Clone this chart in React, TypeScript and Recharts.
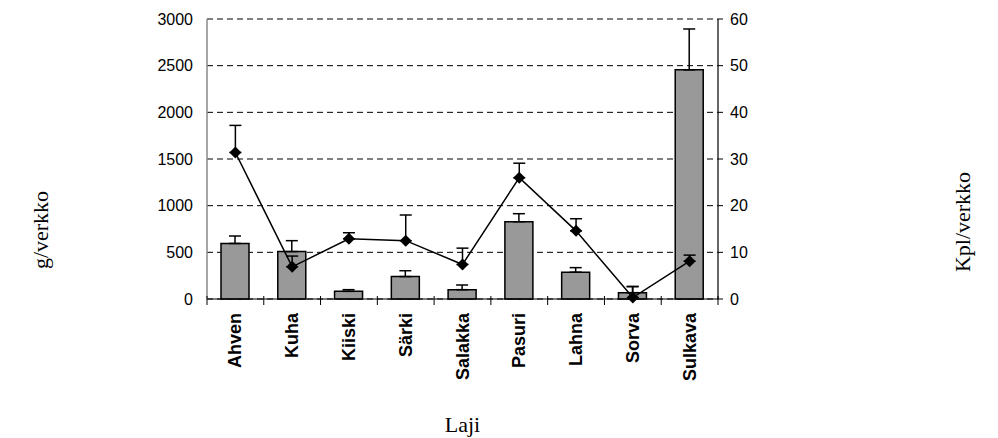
import React from "react";
import { Bar, CartesianGrid, ComposedChart, ErrorBar, Line, XAxis, YAxis } from "recharts";

const categories = ["Ahven", "Kuha", "Kiiski", "Särki", "Salakka", "Pasuri", "Lahna", "Sorva", "Sulkava"];
// g/verkko (bars) and top of their error bars
const weightPerNet = [595, 508, 82, 240, 100, 828, 287, 68, 2455];
const weightUpper = [675, 625, 100, 303, 150, 914, 336, 132, 2893];
// Kpl/verkko (line) and top of its error bars
const countPerNet = [31.4, 6.9, 12.9, 12.5, 7.4, 26.0, 14.6, 0.3, 8.1];
const countUpper = [37.2, 9.2, 14.2, 18.0, 10.9, 29.1, 17.2, 2.7, 9.4];
const leftTicks = [0, 500, 1000, 1500, 2000, 2500, 3000];
const rightTicks = [0, 10, 20, 30, 40, 50, 60];

const data = categories.map((laji, i) => ({
  laji,
  g: weightPerNet[i],
  gErr: [0, weightUpper[i] - weightPerNet[i]],
  kpl: countPerNet[i],
  kplErr: [0, countUpper[i] - countPerNet[i]],
}));

const SANS = "'Liberation Sans', Arial, sans-serif";
const SERIF = "'Liberation Serif', 'Times New Roman', serif";
const tickFont = { fontSize: 16, fill: "#000", fontFamily: SANS };

function LajiTick(props: any) {
  const { x, y, payload, index, visibleTicksCount } = props;
  const half = payload.offset ?? 511 / 9 / 2;
  const last = index === (visibleTicksCount ?? categories.length) - 1;
  return (
    <g>
      <line x1={x - half} x2={x - half} y1={y - 3} y2={y + 6} stroke="#000" />
      {last && <line x1={x + half} x2={x + half} y1={y - 3} y2={y + 6} stroke="#000" />}
      <text
        x={x}
        y={y + 14}
        transform={`rotate(-90, ${x}, ${y + 14})`}
        textAnchor="end"
        dominantBaseline="central"
        fontFamily={SANS}
        fontWeight="bold"
        fontSize={18}
        fill="#000"
      >
        {payload.value}
      </text>
    </g>
  );
}

function Diamond(props: any) {
  const { cx, cy, index } = props;
  if (cx == null || cy == null) return <g key={index} />;
  const r = 6;
  return <path key={index} d={`M${cx},${cy - r}L${cx + r},${cy}L${cx},${cy + r}L${cx - r},${cy}Z`} fill="#000" />;
}

const sideTitle = (value: string, x: number, y: number) => () =>
  (
    <text
      x={x}
      y={y}
      transform={`rotate(-90, ${x}, ${y})`}
      textAnchor="middle"
      dominantBaseline="central"
      fontFamily={SERIF}
      fontSize={22}
      fill="#000"
    >
      {value}
    </text>
  );

export default function App() {
  return (
    <div style={{ position: "absolute", left: 0, top: 0, background: "#fff" }}>
      <ComposedChart width={998} height={438} data={data} margin={{ top: 19, right: 0, bottom: 0, left: 0 }}>
        <CartesianGrid yAxisId="left" vertical={false} stroke="#000" strokeDasharray="6 4" />
        <XAxis
          dataKey="laji"
          interval={0}
          height={139}
          axisLine={{ stroke: "#000", strokeWidth: 1.2 }}
          tickLine={false}
          tickSize={0}
          tickMargin={0}
          tick={<LajiTick />}
          label={{ value: "Laji", position: "insideBottom", offset: 6, fontFamily: SERIF, fontSize: 22, fill: "#000" }}
        />
        <YAxis
          yAxisId="left"
          domain={[0, 3000]}
          ticks={leftTicks}
          width={207}
          axisLine={{ stroke: "#888", strokeWidth: 1.5 }}
          tickLine={false}
          tickSize={0}
          tickMargin={14}
          tick={tickFont}
          label={{ content: sideTitle("g/verkko", 40, 230) }}
        />
        <YAxis
          yAxisId="right"
          orientation="right"
          domain={[0, 60]}
          ticks={rightTicks}
          width={280}
          axisLine={{ stroke: "#000", strokeWidth: 1.2 }}
          tickLine={{ stroke: "#000" }}
          tickSize={5}
          tickMargin={7}
          tick={tickFont}
          label={{ content: sideTitle("Kpl/verkko", 962, 222) }}
        />
        <Bar
          yAxisId="left"
          dataKey="g"
          fill="#999999"
          stroke="#000"
          strokeWidth={1.5}
          barSize={28}
          isAnimationActive={false}
        >
          <ErrorBar dataKey="gErr" direction="y" width={6} stroke="#000" strokeWidth={1.5} />
        </Bar>
        <Line
          yAxisId="right"
          dataKey="kpl"
          stroke="#000"
          strokeWidth={1.5}
          dot={Diamond}
          activeDot={false}
          isAnimationActive={false}
        >
          <ErrorBar dataKey="kplErr" direction="y" width={6} stroke="#000" strokeWidth={1.5} />
        </Line>
      </ComposedChart>
    </div>
  );
}
